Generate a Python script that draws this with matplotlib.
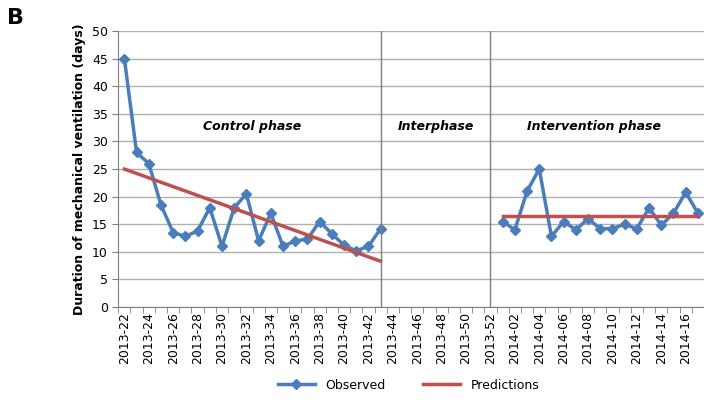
import matplotlib
matplotlib.use("Agg")
import matplotlib.pyplot as plt
import numpy as np

weeks = [f"2013-{w}" for w in range(22, 53)] + [f"2014-{w:02d}" for w in range(1, 18)]
control_obs = [45, 28, 26, 18.5, 13.5, 12.8, 13.8, 18, 11, 18, 20.5, 12, 17, 11, 12, 12.3, 15.5, 13.3, 11.2, 10.2, 11, 14.2]
interv_obs = [15.5, 14, 21, 25, 12.8, 15.5, 14, 16, 14.2, 14.2, 15, 14.2, 18, 14.8, 17, 20.8, 17]
control_pred = [25, 8.3]
interv_pred = [16.5, 16.5]

blue = "#4a7ebb"
red = "#c0504d"
fig = plt.figure(figsize=(7.04, 4.03), dpi=100)
ax = fig.add_axes([0.168, 0.238, 0.832, 0.685])
xc = np.arange(len(control_obs))
xi = np.arange(31, 31 + len(interv_obs))
ax.plot(xc, control_obs, color=blue, lw=2.5, marker="D", ms=5, label="Observed")
ax.plot(xi, interv_obs, color=blue, lw=2.5, marker="D", ms=5)
ax.plot([0, 21], control_pred, color=red, lw=2.5, label="Predictions")
ax.plot([31, 47], interv_pred, color=red, lw=2.5)
ax.axvline(21, color="#808080", lw=1)
ax.axvline(30, color="#808080", lw=1)
ax.set_xlim(-0.5, 46.6)
ax.set_ylim(0, 50)
ax.set_yticks(range(0, 51, 5))
ax.yaxis.grid(True, color="#b0b0b0", lw=1)
ax.set_axisbelow(True)
ax.set_xticks(range(0, len(weeks), 2))
ax.set_xticklabels(weeks[::2], rotation=90, fontsize=9)
ax.set_xticks(np.arange(-0.5, len(weeks), 1), minor=True)
ax.tick_params(axis="x", which="major", length=0)
ax.tick_params(axis="x", which="minor", length=4, color="#808080")
ax.tick_params(axis="y", labelsize=9, length=4, color="#808080")
for s in ["top", "right"]:
    ax.spines[s].set_visible(False)
for s in ["left", "bottom"]:
    ax.spines[s].set_color("#808080")
ax.set_ylabel("Duration of mechanical ventilation (days)", fontsize=9, fontweight="bold")
ax.text(10.5, 32, "Control phase", ha="center", fontsize=9, fontweight="bold", style="italic")
ax.text(25.5, 32, "Interphase", ha="center", fontsize=9, fontweight="bold", style="italic")
ax.text(38.5, 32, "Intervention phase", ha="center", fontsize=9, fontweight="bold", style="italic")
fig.text(0.01, 0.94, "B", fontsize=16, fontweight="bold")
fig.legend(loc="lower center", bbox_to_anchor=(0.58, 0.0), ncol=2, frameon=False, fontsize=9, handlelength=3, columnspacing=3)
fig.savefig("out.png", dpi=100)
